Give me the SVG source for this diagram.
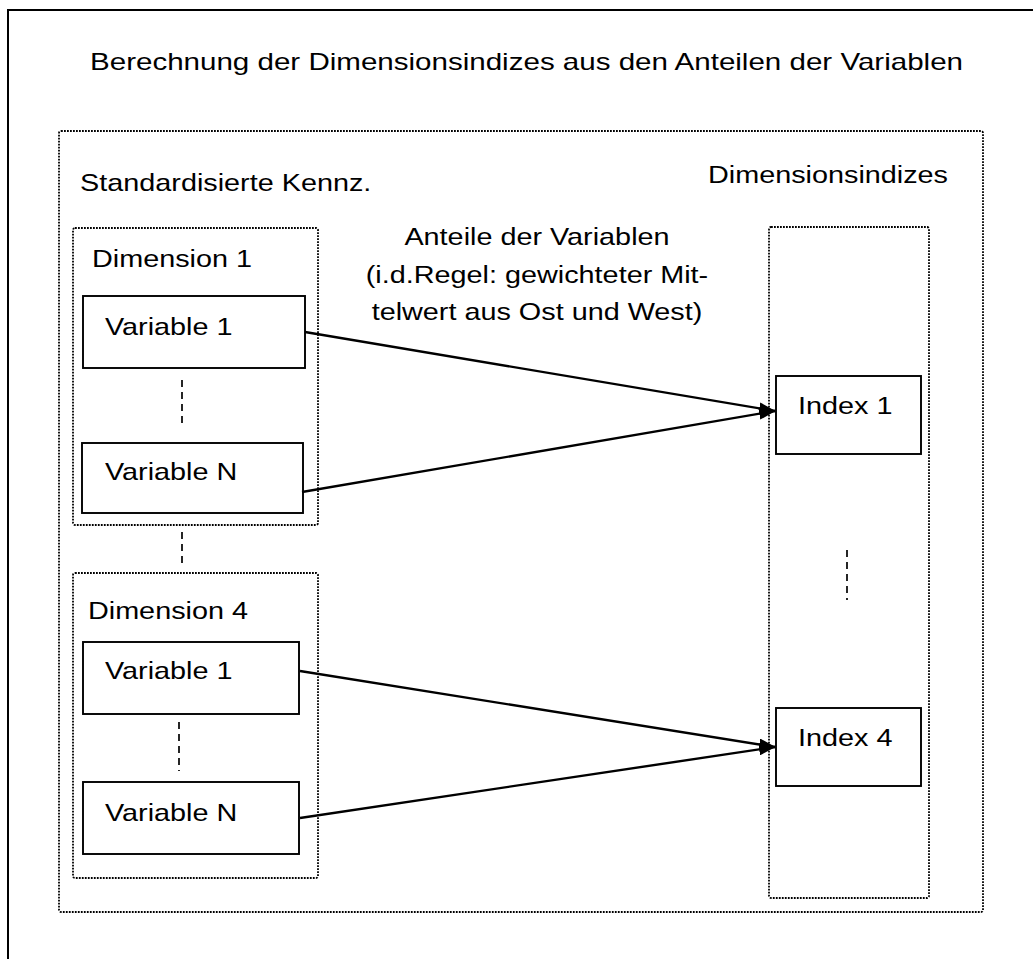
<svg xmlns="http://www.w3.org/2000/svg" width="1033" height="959" viewBox="0 0 1033 959">
  <style>
    text { font-family: "Liberation Sans", Arial, sans-serif; font-size: 24px; fill: #000; }
    .frame { fill: none; stroke: #000; stroke-width: 2; }
    .dotted { fill: none; stroke: #000; stroke-width: 1.8; stroke-dasharray: 1.8 1.2; }
    .box { fill: #fff; stroke: #000; stroke-width: 1.9; }
    .dash { stroke: #000; stroke-width: 1.7; stroke-dasharray: 7 5; fill: none; }
    .conn { stroke: #000; stroke-width: 2.4; fill: none; }
  </style>
  <defs>
    <marker id="arrow" markerUnits="userSpaceOnUse" viewBox="0 0 17 12" refX="16" refY="6" markerWidth="17" markerHeight="12" orient="auto">
      <path d="M0,0 L17,6 L0,12 Z" fill="#000"/>
    </marker>
  </defs>

  <rect width="1033" height="959" fill="#fff"/>

  <!-- outer frame (continues past the right and bottom edges) -->
  <path class="frame" d="M8,960 L8,10 L1034,10"/>

  <!-- title -->
  <g id="title">
    <text x="90" y="70" textLength="873" lengthAdjust="spacingAndGlyphs">Berechnung der Dimensionsindizes aus den Anteilen der Variablen</text>
  </g>

  <!-- overall dotted container -->
  <g id="container">
    <rect class="dotted" x="59" y="131" width="924" height="781" rx="2"/>
    <text transform="scale(1.2 1)" x="66.7" y="191">Standardisierte Kennz.</text>
    <text transform="scale(1.2 1)" x="590" y="183">Dimensionsindizes</text>
  </g>

  <!-- dimension 1 group -->
  <g id="dimension1">
    <rect class="dotted" x="73" y="228" width="245" height="297" rx="2"/>
    <text transform="scale(1.2 1)" x="76.7" y="267">Dimension 1</text>
  </g>
  <g id="dim1-var1">
    <rect class="box" x="83" y="296" width="222" height="72"/>
    <text transform="scale(1.2 1)" x="87.5" y="335">Variable 1</text>
  </g>
  <g id="dim1-varN">
    <rect class="box" x="82" y="443" width="221" height="70"/>
    <text transform="scale(1.2 1)" x="87.5" y="480">Variable N</text>
  </g>

  <!-- dimension 4 group -->
  <g id="dimension4">
    <rect class="dotted" x="73" y="573" width="245" height="305" rx="2"/>
    <text transform="scale(1.2 1)" x="73.3" y="619">Dimension 4</text>
  </g>
  <g id="dim4-var1">
    <rect class="box" x="83" y="642" width="216" height="72"/>
    <text transform="scale(1.2 1)" x="87.5" y="679">Variable 1</text>
  </g>
  <g id="dim4-varN">
    <rect class="box" x="83" y="782" width="216" height="72"/>
    <text transform="scale(1.2 1)" x="87.5" y="821">Variable N</text>
  </g>

  <!-- index column -->
  <g id="index-column">
    <rect class="dotted" x="769" y="227" width="160" height="671" rx="2"/>
  </g>
  <g id="index1">
    <rect class="box" x="776" y="376" width="145" height="78"/>
    <text transform="scale(1.2 1)" x="665" y="414">Index 1</text>
  </g>
  <g id="index4">
    <rect class="box" x="776" y="708" width="145" height="78"/>
    <text transform="scale(1.2 1)" x="665" y="746">Index 4</text>
  </g>

  <!-- label for the weighting -->
  <g id="weight-label">
    <text transform="scale(1.2 1)" text-anchor="middle" x="447.5" y="245">Anteile der Variablen</text>
    <text transform="scale(1.2 1)" text-anchor="middle" x="447.5" y="283">(i.d.Regel: gewichteter Mit-</text>
    <text transform="scale(1.2 1)" text-anchor="middle" x="447.5" y="320">telwert aus Ost und West)</text>
  </g>

  <!-- ellipsis dashes -->
  <g id="ellipses">
    <line class="dash" x1="182" y1="380" x2="182" y2="428"/>
    <line class="dash" x1="182" y1="532" x2="182" y2="567"/>
    <line class="dash" x1="179" y1="722" x2="179" y2="771"/>
    <line class="dash" x1="847" y1="550" x2="847" y2="600"/>
  </g>

  <!-- connectors -->
  <g id="connectors">
    <line class="conn" x1="305" y1="332" x2="775" y2="411" marker-end="url(#arrow)"/>
    <line class="conn" x1="302" y1="492" x2="775" y2="411" marker-end="url(#arrow)"/>
    <line class="conn" x1="300" y1="671" x2="775" y2="747" marker-end="url(#arrow)"/>
    <line class="conn" x1="300" y1="818" x2="775" y2="747" marker-end="url(#arrow)"/>
  </g>
</svg>
